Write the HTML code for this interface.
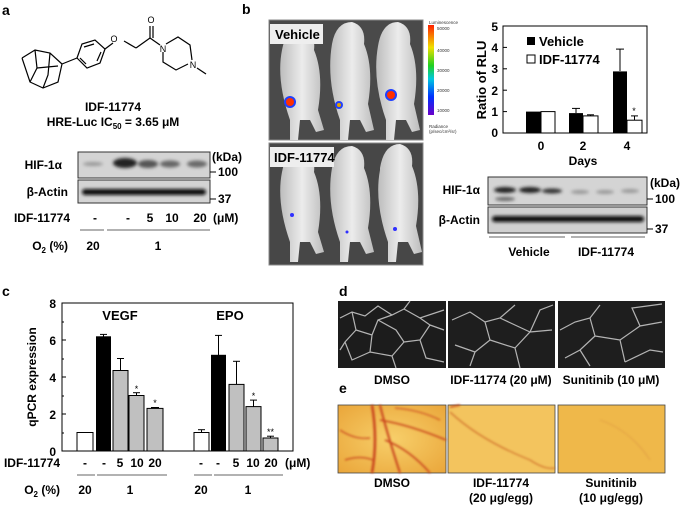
<!DOCTYPE html>
<html><head><meta charset="utf-8"><style>
html,body{margin:0;padding:0;background:#fff;}
svg{display:block;font-family:"Liberation Sans",Arial,sans-serif;font-weight:bold;}
</style></head><body>
<svg width="685" height="509" viewBox="0 0 685 509" xmlns="http://www.w3.org/2000/svg">
<defs>
<filter id="bl" x="-20%" y="-100%" width="140%" height="300%"><feGaussianBlur stdDeviation="1.6"/></filter>
<filter id="bl2"><feGaussianBlur stdDeviation="1"/></filter>
<radialGradient id="egg" cx="50%" cy="50%" r="70%"><stop offset="0" stop-color="#f7cf6a"/><stop offset="1" stop-color="#eaa63a"/></radialGradient>
<linearGradient id="mouse" x1="0" y1="0" x2="1" y2="0"><stop offset="0" stop-color="#bdbdbd"/><stop offset="0.5" stop-color="#ececec"/><stop offset="1" stop-color="#bdbdbd"/></linearGradient>
<linearGradient id="cbar" x1="0" y1="1" x2="0" y2="0"><stop offset="0" stop-color="#6a00c8"/><stop offset="0.2" stop-color="#0030ff"/><stop offset="0.4" stop-color="#00c8e0"/><stop offset="0.55" stop-color="#20d020"/><stop offset="0.75" stop-color="#f0e000"/><stop offset="1" stop-color="#ff2000"/></linearGradient>
</defs>
<g font-size="12" fill="#000">
<!-- ===== Panel a ===== -->
<text x="2" y="15" font-size="14">a</text>
<g stroke="#000" stroke-width="1.2" fill="none">
<polyline points="22,58 35,50 50,53 62,64 58,82 43,88 30,82 22,58"/>
<polyline points="35,50 37,68 30,82"/><polyline points="37,68 58,66"/><polyline points="50,53 48,75 43,88"/>
<line x1="62" y1="64" x2="77" y2="58"/>
<polygon points="77,58 82,44 95,40 105,49 100,63 87,68"/>
<line x1="84" y1="47" x2="94" y2="44"/><line x1="101" y1="52" x2="97" y2="61"/><line x1="80" y1="58" x2="86" y2="64"/>
<line x1="105" y1="49" x2="113" y2="43"/>
<line x1="124" y1="41" x2="136" y2="48"/><line x1="136" y1="48" x2="150" y2="38"/>
<line x1="150" y1="38" x2="150" y2="26"/><line x1="153" y1="38" x2="153" y2="26"/>
<line x1="150" y1="38" x2="160" y2="45"/>
<polyline points="166,44 178,37 190,45 192,60"/><polyline points="163,52 163,62 176,70 188,64"/>
<line x1="197" y1="68" x2="206" y2="74"/>
</g>
<text x="114" y="42" font-size="9" font-weight="normal" text-anchor="middle">O</text>
<text x="151" y="23" font-size="9" font-weight="normal" text-anchor="middle">O</text>
<text x="163" y="52" font-size="9" font-weight="normal" text-anchor="middle">N</text>
<text x="193" y="68" font-size="9" font-weight="normal" text-anchor="middle">N</text>
<text x="113" y="111" text-anchor="middle">IDF-11774</text>
<text x="113" y="126" text-anchor="middle">HRE-Luc IC<tspan font-size="8" dy="3">50</tspan><tspan dy="-3"> = 3.65 μM</tspan></text>
<rect x="78" y="152" width="132" height="26" fill="#d4d4d4" stroke="#333"/>
<rect x="78" y="180" width="132" height="23" fill="#d4d4d4" stroke="#333"/>
<g filter="url(#bl)">
<ellipse cx="93" cy="164" rx="10" ry="2" fill="#999"/>
<ellipse cx="125" cy="163" rx="12" ry="5" fill="#222"/>
<ellipse cx="148" cy="164" rx="10" ry="4" fill="#555"/>
<ellipse cx="170" cy="164" rx="10" ry="3.5" fill="#666"/>
<ellipse cx="197" cy="164" rx="10" ry="3.5" fill="#6a6a6a"/>
<rect x="82" y="189" width="124" height="6" rx="3" fill="#111"/>
</g>
<text x="62" y="169" text-anchor="end">HIF-1α</text>
<text x="68" y="196" text-anchor="end">β-Actin</text>
<text x="212" y="161">(kDa)</text>
<line x1="210" y1="172" x2="216" y2="172" stroke="#000"/><text x="218" y="176">100</text>
<line x1="210" y1="199" x2="216" y2="199" stroke="#000"/><text x="218" y="203">37</text>
<text x="70" y="222" text-anchor="end">IDF-11774</text>
<g text-anchor="middle"><text x="95" y="222">-</text><text x="128" y="222">-</text><text x="150" y="222">5</text><text x="172" y="222">10</text><text x="200" y="222">20</text></g>
<text x="213" y="222">(μM)</text>
<line x1="80" y1="230" x2="104" y2="230" stroke="#666"/><line x1="107" y1="230" x2="210" y2="230" stroke="#666"/>
<text x="68" y="250" text-anchor="end">O<tspan font-size="8" dy="3">2</tspan><tspan dy="-3"> (%)</tspan></text>
<text x="93" y="250" text-anchor="middle">20</text><text x="158" y="250" text-anchor="middle">1</text>

<!-- ===== Panel b ===== -->
<text x="242" y="14" font-size="14">b</text>
<rect x="269" y="20" width="154" height="120" fill="#4a4a4a" stroke="#888"/>
<rect x="269" y="143" width="154" height="122" fill="#474747" stroke="#888"/>
<g fill="url(#mouse)">
<path d="M282,50 q4,-22 20,-22 q14,4 12,22 q10,24 4,60 l6,20 l-8,2 l-6,-12 l-10,0 l-2,20 l-8,0 l0,-20 q-14,-40 -8,-70z"/>
<path d="M332,44 q4,-22 20,-22 q14,4 12,22 q10,24 4,60 l6,26 l-8,2 l-6,-12 l-10,0 l-2,20 l-8,0 l0,-20 q-14,-40 -8,-76z"/>
<path d="M378,46 q4,-24 20,-24 q14,4 12,22 q10,24 4,60 l6,26 l-8,2 l-6,-12 l-10,0 l-2,20 l-8,0 l0,-20 q-14,-40 -8,-74z"/>
<path d="M282,172 q4,-22 20,-22 q14,4 12,22 q10,24 4,60 l6,20 l-8,2 l-6,-12 l-10,0 l-2,20 l-8,0 l0,-20 q-14,-40 -8,-70z"/>
<path d="M332,168 q4,-22 20,-22 q14,4 12,22 q10,24 4,60 l6,24 l-8,2 l-6,-12 l-10,0 l-2,20 l-8,0 l0,-20 q-14,-40 -8,-74z"/>
<path d="M380,168 q4,-24 20,-24 q14,4 12,22 q10,24 4,60 l6,26 l-8,2 l-6,-12 l-10,0 l-2,20 l-8,0 l0,-20 q-14,-40 -8,-72z"/>
</g>
<circle cx="290" cy="102" r="6" fill="#2040ff"/><circle cx="290" cy="102" r="4" fill="#ff3000"/>
<circle cx="339" cy="105" r="4" fill="#2040ff"/><circle cx="339" cy="105" r="2" fill="#e0a000"/>
<circle cx="391" cy="95" r="6" fill="#2040ff"/><circle cx="391" cy="95" r="4" fill="#ff3000"/>
<circle cx="292" cy="215" r="2" fill="#3030ff"/><circle cx="347" cy="232" r="1.5" fill="#3030ff"/><circle cx="395" cy="229" r="2" fill="#3030ff"/>
<rect x="270" y="24" width="53" height="20" fill="#eee"/>
<text x="275" y="39" font-size="13">Vehicle</text>
<rect x="270" y="147" width="64" height="20" fill="#eee"/>
<text x="274" y="162" font-size="13">IDF-11774</text>
<rect x="428" y="25" width="6" height="90" fill="url(#cbar)"/>
<g font-size="4.5" font-weight="normal" fill="#333">
<text x="429" y="24">Luminescence</text><text x="437" y="30">50000</text><text x="437" y="52">40000</text><text x="437" y="72">30000</text><text x="437" y="92">20000</text><text x="437" y="112">10000</text>
<text x="429" y="128">Radiance</text><text x="429" y="133">(p/sec/cm²/sr)</text>
</g>
<rect x="503" y="26" width="144" height="107" fill="none" stroke="#000"/>
<g stroke="#000">
<line x1="503" y1="26" x2="507" y2="26"/><line x1="503" y1="47.4" x2="507" y2="47.4"/><line x1="503" y1="68.8" x2="507" y2="68.8"/><line x1="503" y1="90.2" x2="507" y2="90.2"/><line x1="503" y1="111.6" x2="507" y2="111.6"/>
<line x1="541" y1="133" x2="541" y2="129"/><line x1="583" y1="133" x2="583" y2="129"/><line x1="627" y1="133" x2="627" y2="129"/>
</g>
<g text-anchor="end"><text x="498" y="31">5</text><text x="498" y="52">4</text><text x="498" y="73">3</text><text x="498" y="95">2</text><text x="498" y="116">1</text><text x="498" y="137">0</text></g>
<text transform="translate(486,80) rotate(-90)" text-anchor="middle" font-size="13">Ratio of RLU</text>
<g stroke="#000">
<line x1="576" y1="108.4" x2="576" y2="113"/><line x1="572" y1="108.4" x2="580" y2="108.4"/>
<line x1="620" y1="49.1" x2="620" y2="71"/><line x1="616" y1="49.1" x2="624" y2="49.1"/>
<line x1="590.5" y1="114.8" x2="590.5" y2="116"/><line x1="587" y1="114.8" x2="594" y2="114.8"/>
<line x1="634.5" y1="115.9" x2="634.5" y2="120"/><line x1="631" y1="115.9" x2="638" y2="115.9"/>
</g>
<rect x="526" y="111.6" width="15" height="21.4" fill="#000"/>
<rect x="541" y="111.6" width="14" height="21.4" fill="#fff" stroke="#000"/>
<rect x="569" y="113.1" width="14" height="19.9" fill="#000"/>
<rect x="583" y="115.9" width="15" height="17.1" fill="#fff" stroke="#000"/>
<rect x="613" y="71.4" width="14" height="61.6" fill="#000"/>
<rect x="627" y="120.2" width="15" height="12.8" fill="#fff" stroke="#000"/>
<text x="634" y="114" font-size="9" font-weight="normal" text-anchor="middle">*</text>
<rect x="527" y="37" width="8" height="8" fill="#000"/><text x="539" y="46" font-size="13">Vehicle</text>
<rect x="527" y="55" width="8" height="8" fill="#fff" stroke="#000"/><text x="539" y="64" font-size="13">IDF-11774</text>
<g text-anchor="middle"><text x="541" y="150">0</text><text x="583" y="150">2</text><text x="627" y="150">4</text><text x="583" y="165">Days</text></g>
<rect x="488" y="177" width="159" height="28" fill="#d4d4d4" stroke="#333"/>
<rect x="488" y="207" width="159" height="26" fill="#d0d0d0" stroke="#333"/>
<g filter="url(#bl)">
<ellipse cx="505" cy="190" rx="11" ry="3" fill="#222"/>
<ellipse cx="530" cy="190" rx="11" ry="3" fill="#222"/>
<ellipse cx="552" cy="191" rx="10" ry="2.5" fill="#333"/>
<ellipse cx="505" cy="199" rx="10" ry="2" fill="#666"/>
<ellipse cx="580" cy="192" rx="9" ry="2" fill="#999"/>
<ellipse cx="605" cy="192" rx="9" ry="2" fill="#999"/>
<ellipse cx="630" cy="191" rx="9" ry="2" fill="#999"/>
<rect x="492" y="216" width="152" height="6" rx="3" fill="#111"/>
</g>
<text x="480" y="194" text-anchor="end">HIF-1α</text>
<text x="480" y="224" text-anchor="end">β-Actin</text>
<text x="650" y="187">(kDa)</text>
<line x1="647" y1="199" x2="653" y2="199" stroke="#000"/><text x="655" y="203">100</text>
<line x1="647" y1="229" x2="653" y2="229" stroke="#000"/><text x="655" y="233">37</text>
<line x1="489" y1="237" x2="565" y2="237" stroke="#666"/><line x1="571" y1="237" x2="645" y2="237" stroke="#666"/>
<text x="529" y="256" text-anchor="middle">Vehicle</text><text x="606" y="256" text-anchor="middle">IDF-11774</text>

<!-- ===== Panel c ===== -->
<text x="2" y="296" font-size="14">c</text>
<rect x="62" y="303" width="231" height="148" fill="none" stroke="#000"/>
<g stroke="#000">
<line x1="62" y1="303" x2="66" y2="303"/><line x1="62" y1="322" x2="64" y2="322"/><line x1="62" y1="340" x2="66" y2="340"/><line x1="62" y1="359" x2="64" y2="359"/><line x1="62" y1="377" x2="66" y2="377"/><line x1="62" y1="396" x2="64" y2="396"/><line x1="62" y1="414" x2="66" y2="414"/><line x1="62" y1="433" x2="64" y2="433"/>
</g>
<g text-anchor="end"><text x="56" y="308">8</text><text x="56" y="345">6</text><text x="56" y="382">4</text><text x="56" y="419">2</text><text x="56" y="456">0</text></g>
<text transform="translate(36,377) rotate(-90)" text-anchor="middle" font-size="12">qPCR expression</text>
<text x="120" y="320" text-anchor="middle" font-size="13">VEGF</text>
<text x="230" y="320" text-anchor="middle" font-size="13">EPO</text>
<g stroke="#000">
<line x1="103.5" y1="334.4" x2="103.5" y2="337"/><line x1="100" y1="334.4" x2="107" y2="334.4"/>
<line x1="120.5" y1="358.5" x2="120.5" y2="371"/><line x1="117" y1="358.5" x2="124" y2="358.5"/>
<line x1="136.5" y1="392.7" x2="136.5" y2="396"/><line x1="133" y1="392.7" x2="140" y2="392.7"/>
<line x1="155" y1="407.5" x2="155" y2="409"/><line x1="151" y1="407.5" x2="159" y2="407.5"/>
<line x1="201.5" y1="429.7" x2="201.5" y2="433"/><line x1="198" y1="429.7" x2="205" y2="429.7"/>
<line x1="218.5" y1="335.4" x2="218.5" y2="355"/><line x1="215" y1="335.4" x2="222" y2="335.4"/>
<line x1="236.5" y1="361.3" x2="236.5" y2="385"/><line x1="233" y1="361.3" x2="240" y2="361.3"/>
<line x1="253.5" y1="400.1" x2="253.5" y2="407"/><line x1="250" y1="400.1" x2="257" y2="400.1"/>
<line x1="270.5" y1="436.2" x2="270.5" y2="438"/><line x1="267" y1="436.2" x2="274" y2="436.2"/>
</g>
<rect x="77" y="432.5" width="16" height="18.5" fill="#fff" stroke="#000"/>
<rect x="96" y="336.3" width="15" height="114.7" fill="#000"/>
<rect x="113" y="370.5" width="15" height="80.5" fill="#c0c0c0" stroke="#000"/>
<rect x="129" y="395.5" width="15" height="55.5" fill="#c0c0c0" stroke="#000"/>
<rect x="147" y="408.4" width="16" height="42.6" fill="#c0c0c0" stroke="#000"/>
<rect x="194" y="432.5" width="15" height="18.5" fill="#fff" stroke="#000"/>
<rect x="211" y="354.8" width="15" height="96.2" fill="#000"/>
<rect x="229" y="384.4" width="15" height="66.6" fill="#c0c0c0" stroke="#000"/>
<rect x="246" y="406.6" width="15" height="44.4" fill="#c0c0c0" stroke="#000"/>
<rect x="263" y="438" width="15" height="13" fill="#c0c0c0" stroke="#000"/>
<g font-size="9" font-weight="normal" text-anchor="middle"><text x="136.5" y="392">*</text><text x="155" y="406">*</text><text x="253.5" y="399">*</text><text x="270.5" y="435">**</text></g>
<text x="60" y="467" text-anchor="end">IDF-11774</text>
<g text-anchor="middle"><text x="85" y="467">-</text><text x="104" y="467">-</text><text x="120" y="467">5</text><text x="137" y="467">10</text><text x="155" y="467">20</text>
<text x="201" y="467">-</text><text x="218" y="467">-</text><text x="236" y="467">5</text><text x="253" y="467">10</text><text x="271" y="467">20</text></g>
<text x="285" y="467">(μM)</text>
<g stroke="#666"><line x1="77" y1="475" x2="95" y2="475"/><line x1="97" y1="475" x2="167" y2="475"/><line x1="194" y1="475" x2="212" y2="475"/><line x1="214" y1="475" x2="283" y2="475"/></g>
<text x="60" y="494" text-anchor="end">O<tspan font-size="8" dy="3">2</tspan><tspan dy="-3"> (%)</tspan></text>
<g text-anchor="middle"><text x="85" y="494">20</text><text x="130" y="494">1</text><text x="201" y="494">20</text><text x="248" y="494">1</text></g>

<!-- ===== Panel d ===== -->
<text x="339" y="296" font-size="14">d</text>
<rect x="338" y="301" width="108" height="67" fill="#1c1c1c"/>
<rect x="448" y="301" width="107" height="67" fill="#1e1e1e"/>
<rect x="558" y="301" width="107" height="67" fill="#1e1e1e"/>
<g stroke="#cfcfcf" stroke-width="1.2" fill="none" opacity="0.85">
<path d="M340,318 L352,312 L365,316 L378,306 L392,315 L404,309 L420,318 L444,310 M352,312 L356,330 L345,342 L340,350 M356,330 L372,335 L378,320 L392,315 M372,335 L370,352 L352,360 L345,342 M370,352 L392,356 L404,342 L396,330 L378,320 M404,342 L420,340 L430,325 L420,318 M420,340 L426,358 L444,362 M392,356 L396,368 M430,325 L444,330 M404,309 L410,301"/>
<path d="M452,320 L470,312 L485,322 L500,318 L515,305 M485,322 L490,340 L475,352 L470,366 M490,340 L515,348 L530,332 L552,330 M515,348 L520,368 M500,318 L530,332 M530,332 L540,310 L553,305 M455,345 L475,352"/>
<path d="M560,330 L575,322 L590,318 L600,305 M590,318 L595,336 L580,350 L565,358 M595,336 L620,340 L640,326 L662,322 M620,340 L625,362 M640,326 L632,308 L662,304 M580,350 L590,366 M625,362 L650,350 L663,352"/>
</g>
<g text-anchor="middle"><text x="392" y="384">DMSO</text><text x="501" y="384">IDF-11774 (20 μM)</text><text x="611" y="384">Sunitinib (10 μM)</text></g>
<!-- ===== Panel e ===== -->
<text x="339" y="393" font-size="14">e</text>
<rect x="338" y="405" width="108" height="68" fill="url(#egg)" stroke="#444" stroke-width="0.8"/>
<rect x="448" y="405" width="107" height="68" fill="#f3c45e" stroke="#444" stroke-width="0.8"/>
<rect x="558" y="405" width="107" height="68" fill="#efb84a" stroke="#444" stroke-width="0.8"/>
<g fill="none" stroke="#c8421a" filter="url(#bl2)">
<path d="M372,405 Q378,440 372,473" stroke-width="2.5"/>
<path d="M380,405 Q386,430 400,473" stroke-width="2"/>
<path d="M380,420 Q410,425 446,440" stroke-width="1.5"/>
<path d="M385,440 Q410,450 430,473" stroke-width="1.5"/>
<path d="M340,430 Q355,440 370,438" stroke-width="1.2"/>
<path d="M345,460 Q360,455 373,460" stroke-width="1.2"/>
<path d="M395,408 Q420,410 440,420" stroke-width="1"/>
<path d="M450,412 Q480,440 530,460 Q545,470 555,468" stroke-width="1.2" stroke="#d0702a"/>
<path d="M450,407 L460,405" stroke-width="1.5"/>
<path d="M600,420 Q630,430 650,460" stroke-width="0.6" stroke="#d89040"/>
</g>
<g text-anchor="middle"><text x="392" y="487">DMSO</text><text x="501" y="487">IDF-11774</text><text x="501" y="502">(20 μg/egg)</text><text x="611" y="487">Sunitinib</text><text x="611" y="502">(10 μg/egg)</text></g>
</g>
</svg>
</body></html>
